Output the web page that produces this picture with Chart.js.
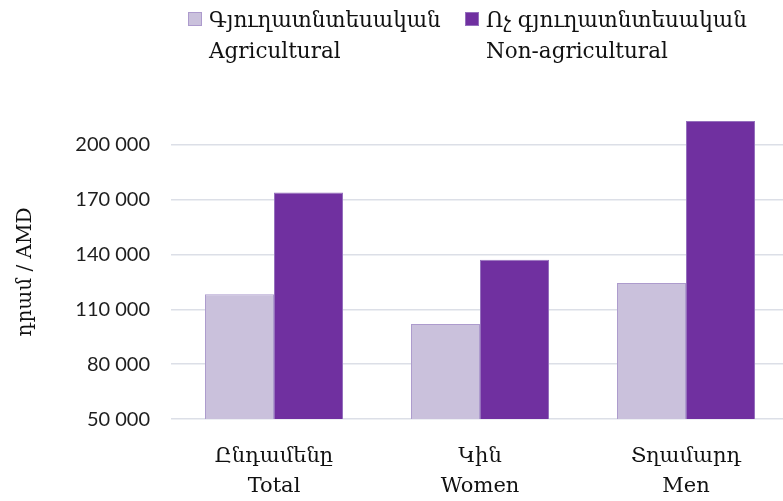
<!DOCTYPE html>
<html>
<head>
<meta charset="utf-8">
<script src="https://cdn.jsdelivr.net/npm/chart.js@4"></script>
<style>
  html, body { margin: 0; padding: 0; background: #ffffff; overflow: hidden; width: 783px; height: 501px; }
  canvas { display: block; }
</style>
</head>
<body>
<canvas id="c" width="790" height="509"></canvas>
<script>
// ---- Data ----
const categories = [['Ընդամենը', 'Total'], ['Կին', 'Women'], ['Տղամարդ', 'Men']];
const agricultural = [118200, 102000, 124400];
const nonAgricultural = [173800, 137100, 212900];
const seriesLabels = [['Գյուղատնտեսական', 'Agricultural'], ['Ոչ գյուղատնտեսական', 'Non-agricultural']];
const yTicks = [50000, 80000, 110000, 140000, 170000, 200000];
const yAxisTitle = 'դրամ / AMD';

// ---- Styles ----
const SERIF = "'DejaVu Serif', serif";
const SANS = "Lato, 'Open Sans', sans-serif";
const colors = ['#cac1dc', '#7030a0'];
const borders = ['#ad9bcd', '#9570bd'];

function fmt(v) {
  return String(v).replace(/\B(?=(\d{3})+(?!\d))/g, ' ');
}

const customLegend = {
  id: 'customLegend',
  afterDraw(chart) {
    const ctx = chart.ctx;
    const xs = [188, 465];
    ctx.save();
    chart.data.datasets.forEach((ds, i) => {
      const x = xs[i];
      ctx.fillStyle = ds.backgroundColor;
      ctx.fillRect(x, 12, 14, 14);
      ctx.strokeStyle = ds.borderColor;
      ctx.lineWidth = 1;
      ctx.strokeRect(x + 0.5, 12.5, 13, 13);
      ctx.fillStyle = '#111111';
      ctx.font = '21.5px ' + SERIF;
      ctx.textAlign = 'left';
      ctx.textBaseline = 'alphabetic';
      const lines = ds.label;
      lines.forEach((t, j) => ctx.fillText(t, x + 21, 27 + j * 31));
    });
    // y-axis title
    ctx.translate(26, 272);
    ctx.rotate(-Math.PI / 2);
    ctx.font = '20px ' + SERIF;
    ctx.textAlign = 'center';
    ctx.textBaseline = 'middle';
    ctx.fillStyle = '#111111';
    ctx.fillText(yAxisTitle, 0, 0);
    ctx.restore();
  }
};

new Chart(document.getElementById('c'), {
  type: 'bar',
  data: {
    labels: categories,
    datasets: [
      { label: seriesLabels[0], data: agricultural, backgroundColor: colors[0], borderColor: borders[0], borderWidth: 1 },
      { label: seriesLabels[1], data: nonAgricultural, backgroundColor: colors[1], borderColor: borders[1], borderWidth: 1 }
    ]
  },
  options: {
    responsive: false,
    animation: false,
    devicePixelRatio: 1,
    layout: { padding: { top: 108, left: 14, right: 1, bottom: -15 } },
    datasets: { bar: { categoryPercentage: 0.67, barPercentage: 1.0 } },
    plugins: {
      legend: { display: false },
      tooltip: { enabled: false }
    },
    scales: {
      x: {
        grid: { display: false, drawTicks: false },
        border: { display: false },
        ticks: { color: '#111111', font: { family: SERIF, size: 21, lineHeight: 1.45 }, padding: 22, maxRotation: 0 }
      },
      y: {
        min: 50000,
        max: 220000,
        afterBuildTicks: (scale) => { scale.ticks = yTicks.map(v => ({ value: v })); },
        afterFit: (scale) => { scale.width = 157; },
        grid: { color: '#dcdfe7', lineWidth: 1.5, drawTicks: false },
        border: { display: false },
        ticks: { color: '#1e1e1e', font: { family: SANS, size: 20 }, padding: 21, callback: (v) => fmt(v) },
        title: { display: false }
      }
    }
  },
  plugins: [customLegend]
});
</script>
</body>
</html>
